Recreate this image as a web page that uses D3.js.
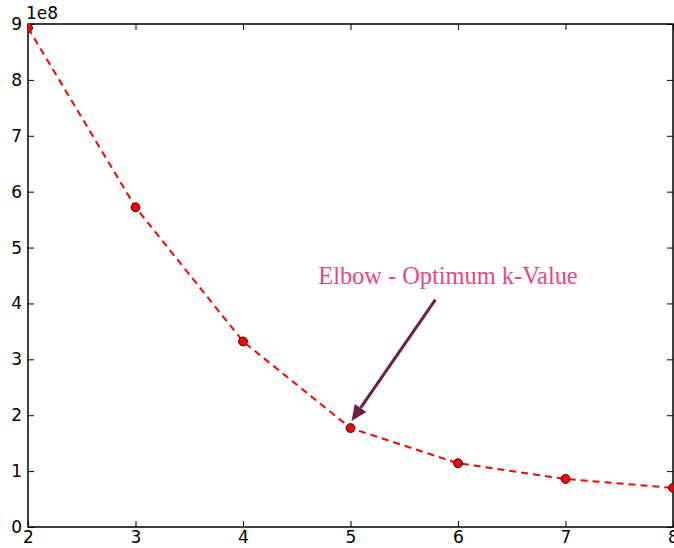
<!DOCTYPE html>
<html>
<head>
<meta charset="utf-8">
<script src="https://cdn.jsdelivr.net/npm/d3@7"></script>
<style>
    body { margin: 0; background: #fff; }
    .axis text { font: 17px "DejaVu Sans", sans-serif; fill: #000; }
</style>
</head>
<body>
<div id="chart"></div>
<script>
// k values and within-cluster sum of squares (in units of 1e8)
const kValues = [2, 3, 4, 5, 6, 7, 8];
const sse = [8.93, 5.72, 3.32, 1.77, 1.14, 0.86, 0.70];
const xTicks = [2, 3, 4, 5, 6, 7, 8];
const yTicks = [0, 1, 2, 3, 4, 5, 6, 7, 8, 9];
const annotation = "Elbow - Optimum k-Value";
const elbowK = 5;

const width = 674, height = 548;
const margin = { top: 24, right: 1, bottom: 21, left: 28 };

const svg = d3.select("#chart").append("svg")
    .attr("width", width)
    .attr("height", height);

const x = d3.scaleLinear().domain([2, 8]).range([margin.left, width - margin.right]);
const y = d3.scaleLinear().domain([0, 9]).range([height - margin.bottom, margin.top]);

svg.append("defs").append("clipPath").attr("id", "clip")
    .append("rect")
    .attr("x", margin.left).attr("y", margin.top)
    .attr("width", x(8) - x(2)).attr("height", y(0) - y(9));

// ticks point inward, mirrored on top and right
const xAxis = svg.append("g").attr("class", "axis")
    .attr("transform", `translate(0,${y(0)})`)
    .call(d3.axisBottom(x).tickValues(xTicks).tickSizeInner(-6).tickSizeOuter(0).tickPadding(4).tickFormat(d3.format("d")));
const yAxis = svg.append("g").attr("class", "axis")
    .attr("transform", `translate(${x(2)},0)`)
    .call(d3.axisLeft(y).tickValues(yTicks).tickSizeInner(-6).tickSizeOuter(0).tickPadding(6).tickFormat(d3.format("d")));
svg.append("g")
    .attr("transform", `translate(0,${y(9)})`)
    .call(d3.axisTop(x).tickValues(xTicks).tickSizeInner(-6).tickSizeOuter(0).tickFormat(""));
svg.append("g")
    .attr("transform", `translate(${x(8)},0)`)
    .call(d3.axisRight(y).tickValues(yTicks).tickSizeInner(-6).tickSizeOuter(0).tickFormat(""));
svg.selectAll(".domain").remove();
svg.selectAll(".tick line").attr("stroke", "#000").attr("stroke-width", 1);

// frame
svg.append("rect")
    .attr("x", x(2)).attr("y", y(9))
    .attr("width", x(8) - x(2)).attr("height", y(0) - y(9))
    .attr("fill", "none").attr("stroke", "#000").attr("stroke-width", 1.5);

svg.append("text")
    .attr("x", x(2) - 2).attr("y", y(9) - 5)
    .style("font", "17px 'DejaVu Sans', sans-serif")
    .text("1e8");

const pts = kValues.map((k, i) => ({ k, v: sse[i] }));
const plot = svg.append("g").attr("clip-path", "url(#clip)");

plot.append("path")
    .datum(pts)
    .attr("fill", "none")
    .attr("stroke", "#ff0000")
    .attr("stroke-width", 2)
    .attr("stroke-dasharray", "7,5")
    .attr("d", d3.line().x(d => x(d.k)).y(d => y(d.v)));

plot.selectAll("circle")
    .data(pts)
    .join("circle")
        .attr("cx", d => x(d.k))
        .attr("cy", d => y(d.v))
        .attr("r", 4.5)
        .attr("fill", "#ff0000")
        .attr("stroke", "#000")
        .attr("stroke-width", 0.8);

// annotation arrow pointing to the elbow
const elbow = pts.find(d => d.k === elbowK);
const tip = [x(elbow.k) + 1, y(elbow.v) - 7];
const tail = [x(5.79), y(4.07)];
const ang = Math.atan2(tip[1] - tail[1], tip[0] - tail[0]);
const headLen = 16, headW = 7;
const base = [tip[0] - headLen * Math.cos(ang), tip[1] - headLen * Math.sin(ang)];
const arrowColor = "#6d1f47";

svg.append("line")
    .attr("x1", tail[0]).attr("y1", tail[1])
    .attr("x2", base[0]).attr("y2", base[1])
    .attr("stroke", arrowColor).attr("stroke-width", 3);

svg.append("path")
    .attr("fill", arrowColor)
    .attr("d", d3.line()([
        tip,
        [base[0] + headW * Math.sin(ang), base[1] - headW * Math.cos(ang)],
        [base[0] - headW * Math.sin(ang), base[1] + headW * Math.cos(ang)]
    ]));

svg.append("text")
    .attr("x", x(4.7))
    .attr("y", y(4.35))
    .attr("fill", "#e8487e")
    .style("font", "24.4px 'Liberation Serif', serif")
    .text(annotation);
</script>
</body>
</html>
